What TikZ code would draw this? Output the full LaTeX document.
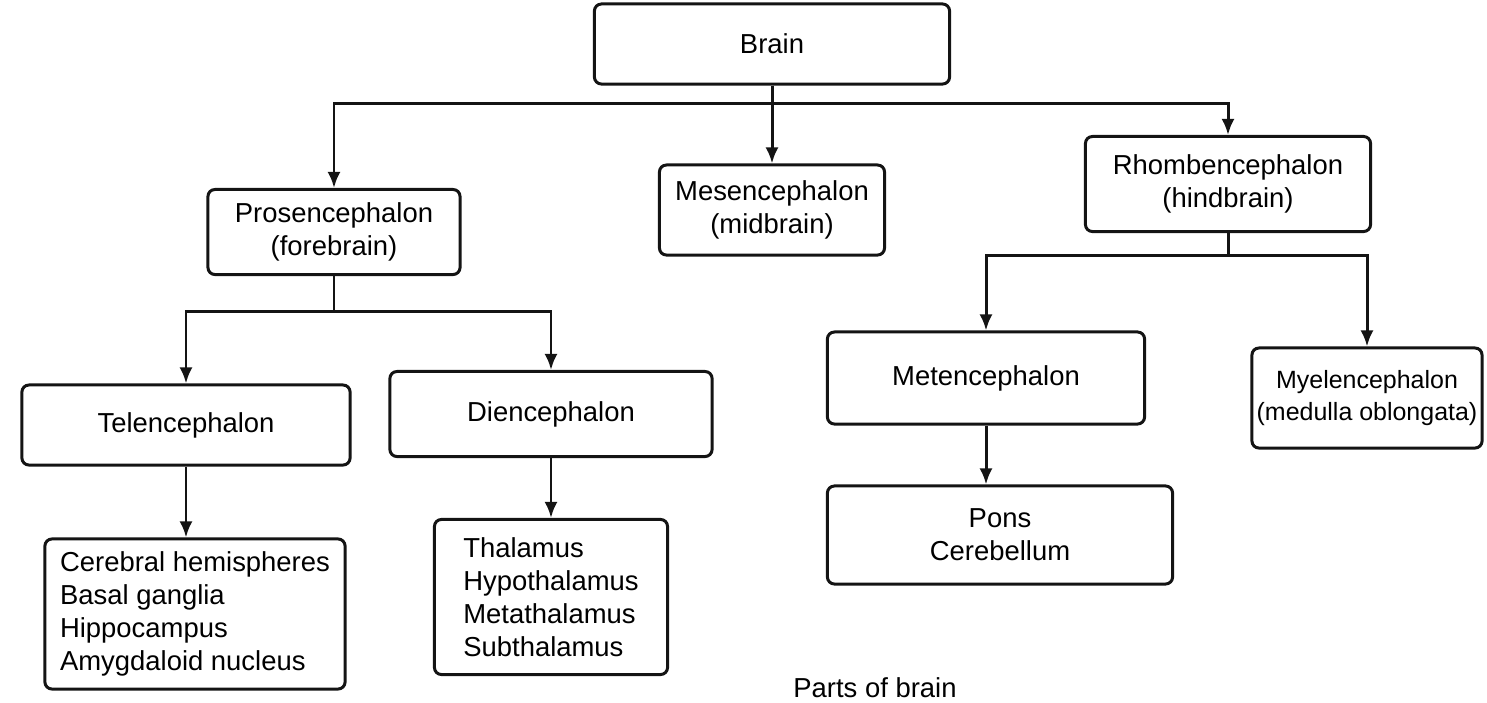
\documentclass[tikz,border=0pt]{standalone}
\usepackage{fontspec}
\setmainfont{Liberation Sans}
\usepackage{xcolor}
\usepackage{tikz}
\usetikzlibrary{arrows.meta,positioning}
\definecolor{chartline}{RGB}{20,20,20}

\begin{document}
\begin{tikzpicture}[
    x=0.01cm, y=-0.01cm,
    font=\fontsize{7.8}{9.4}\selectfont,
    part/.style={draw=chartline, fill=white, rounded corners=2pt, line width=0.85pt,
      align=center, inner sep=2pt},
    arrow/.style={-{Latex[length=1.6mm,width=1.3mm]}, draw=chartline, line width=0.85pt}
  ]
    \useasboundingbox (0,0) rectangle (1487,702);
    \node[part, minimum width=3.55cm, minimum height=0.8cm] (brain) at (772,44) {Brain};
    \node[part, minimum width=2.25cm, minimum height=0.9cm] (mesen) at (772,210) {Mesencephalon\\(midbrain)};
    \node[part, minimum width=2.52cm, minimum height=0.85cm] (prosen) at (334,232) {Prosencephalon\\(forebrain)};
    \node[part, minimum width=2.85cm, minimum height=0.95cm] (rhomben) at (1228,184) {Rhombencephalon\\(hindbrain)};
    \node[part, minimum width=3.28cm, minimum height=0.8cm] (telen) at (186,425) {Telencephalon};
    \node[part, minimum width=3.22cm, minimum height=0.85cm] (dien) at (551,414) {Diencephalon};
    \node[part, minimum width=3.17cm, minimum height=0.92cm] (meten) at (986,378) {Metencephalon};
    \node[part, minimum width=2.3cm, minimum height=1.0cm, inner sep=1pt,
      font=\fontsize{7.1}{9}\selectfont] (myelen) at (1367,398) {Myelencephalon\\(medulla oblongata)};
    \node[part, minimum width=3.0cm, minimum height=1.5cm, align=left] (cerebrum) at (195,614) {Cerebral hemispheres\\Basal ganglia\\Hippocampus\\Amygdaloid nucleus};
    \node[part, minimum width=2.33cm, minimum height=1.55cm, align=left] (thalami) at (551,597) {Thalamus\\Hypothalamus\\Metathalamus\\Subthalamus};
    \node[part, minimum width=3.45cm, minimum height=0.98cm] (hind) at (1000,535) {Pons\\Cerebellum};
    \node[anchor=south, inner sep=1pt] (caption) at (875,702) {Parts of brain};
    \draw[arrow] (brain.south) -- (mesen.north);
    \draw[arrow] (brain.south) -- ++(0,18) -| (prosen.north);
    \draw[arrow] (brain.south) -- ++(0,18) -| (rhomben.north);
    \draw[arrow] (prosen.south) -- ++(0,35) -| (telen.north);
    \draw[arrow] (prosen.south) -- ++(0,35) -| (dien.north);
    \draw[arrow] (rhomben.south) -- ++(0,22) -| (meten.north);
    \draw[arrow] (rhomben.south) -- ++(0,22) -| (myelen.north);
    \draw[arrow] (telen.south) -- (telen.south |- cerebrum.north);
    \draw[arrow] (dien.south) -- (dien.south |- thalami.north);
    \draw[arrow] (meten.south) -- (meten.south |- hind.north);
  \end{tikzpicture}
\end{document}
